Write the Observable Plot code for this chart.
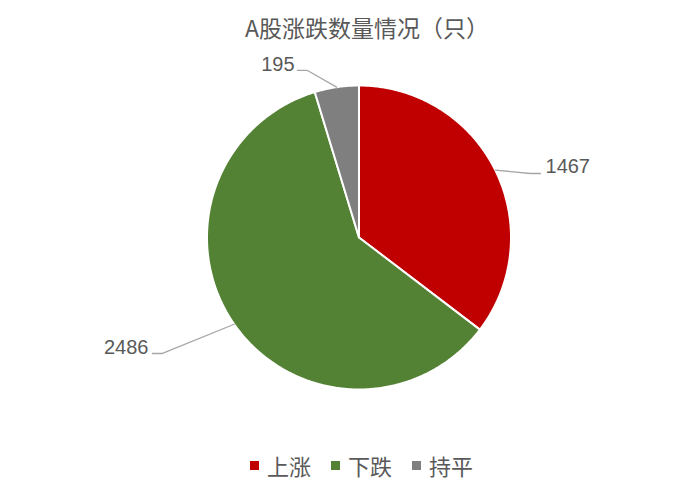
<!DOCTYPE html>
<html>
<head>
<meta charset="utf-8">
<script src="https://cdn.jsdelivr.net/npm/d3@7"></script>
<script src="https://cdn.jsdelivr.net/npm/@observablehq/plot@0.6"></script>
<style>
  body { margin: 0; background: #fff; width: 693px; height: 494px; overflow: hidden; }
  #title { height: 54px; line-height: 54px; padding-left: 245px; font-family: "Noto Sans CJK SC", sans-serif; font-size: 23px; color: #595959; white-space: nowrap; }
  #legend { height: 50px; display: flex; align-items: center; padding-left: 250px; font-family: "Noto Sans CJK SC", sans-serif; font-size: 22px; color: #595959; margin-top: -4px; }
  #legend .item { display: flex; align-items: center; margin-right: 20px; }
  #legend .sw { width: 9px; height: 9px; margin-right: 8px; }
  svg { display: block; }
</style>
</head>
<body>
<div id="title">A股涨跌数量情况（只）</div>
<div id="chart"></div>
<div id="legend"></div>
<script>
// data
const categories = ["上涨", "下跌", "持平"];
const values = [1467, 2486, 195];
const colors = ["#C00000", "#548235", "#7F7F7F"];

// label layout (unit-radius coordinates): elbow, line end, text anchor
const labelLayout = [
  {elbow: [1.128, 0.421], end: [1.194, 0.421], text: [1.227, 0.467], anchor: "start"},
  {elbow: [-1.293, -0.763], end: [-1.359, -0.763], text: [-1.385, -0.724], anchor: "end"},
  {elbow: [-0.339, 1.099], end: [-0.405, 1.099], text: [-0.424, 1.135], anchor: "end"}
];

const W = 693, H = 390, R = 152, cx = 358.5, cy = 183;

const total = d3.sum(values);
const slices = [];
let acc = 0;
categories.forEach((c, i) => {
  const a0 = acc / total * 2 * Math.PI;
  acc += values[i];
  const a1 = acc / total * 2 * Math.PI;
  slices.push({cat: c, value: values[i], a0, a1});
});

// polygon points for each slice (geometry of arcs)
const pts = [];
for (const s of slices) {
  pts.push({cat: s.cat, x: 0, y: 0});
  const n = Math.max(2, Math.ceil((s.a1 - s.a0) / (Math.PI / 360)));
  for (let k = 0; k <= n; k++) {
    const a = s.a0 + (s.a1 - s.a0) * k / n;
    pts.push({cat: s.cat, x: Math.sin(a), y: Math.cos(a)});
  }
  pts.push({cat: s.cat, x: 0, y: 0});
}

// leader lines
const leaders = [];
const labels = [];
slices.forEach((s, i) => {
  const m = (s.a0 + s.a1) / 2;
  const L = labelLayout[i];
  leaders.push({cat: s.cat, x: Math.sin(m), y: Math.cos(m)});
  leaders.push({cat: s.cat, x: L.elbow[0], y: L.elbow[1]});
  leaders.push({cat: s.cat, x: L.end[0], y: L.end[1]});
  labels.push({cat: s.cat, value: s.value, x: L.text[0], y: L.text[1], anchor: L.anchor});
});

const chart = Plot.plot({
  width: W,
  height: H,
  margin: 0,
  x: {domain: [-cx / R, (W - cx) / R], range: [0, W], axis: null},
  y: {domain: [-(H - cy) / R, cy / R], range: [H, 0], axis: null},
  color: {domain: categories, range: colors},
  marks: [
    Plot.line(pts, {x: "x", y: "y", z: "cat", fill: "cat", stroke: "white", strokeWidth: 2, strokeLinejoin: "round", curve: "linear"}),
    Plot.line(leaders, {x: "x", y: "y", z: "cat", stroke: "#A6A6A6", strokeWidth: 1.3}),
    Plot.text(labels.filter(d => d.anchor === "start"), {x: "x", y: "y", text: d => String(d.value), textAnchor: "start", fill: "#595959", fontSize: 20, fontFamily: "Liberation Sans, Arial, sans-serif"}),
    Plot.text(labels.filter(d => d.anchor === "end"), {x: "x", y: "y", text: d => String(d.value), textAnchor: "end", fill: "#595959", fontSize: 20, fontFamily: "Liberation Sans, Arial, sans-serif"})
  ]
});
document.getElementById("chart").appendChild(chart);

const legend = document.getElementById("legend");
categories.forEach((c, i) => {
  const item = document.createElement("div");
  item.className = "item";
  const sw = document.createElement("span");
  sw.className = "sw";
  sw.style.background = colors[i];
  const t = document.createElement("span");
  t.textContent = c;
  item.appendChild(sw);
  item.appendChild(t);
  legend.appendChild(item);
});
</script>
</body>
</html>
